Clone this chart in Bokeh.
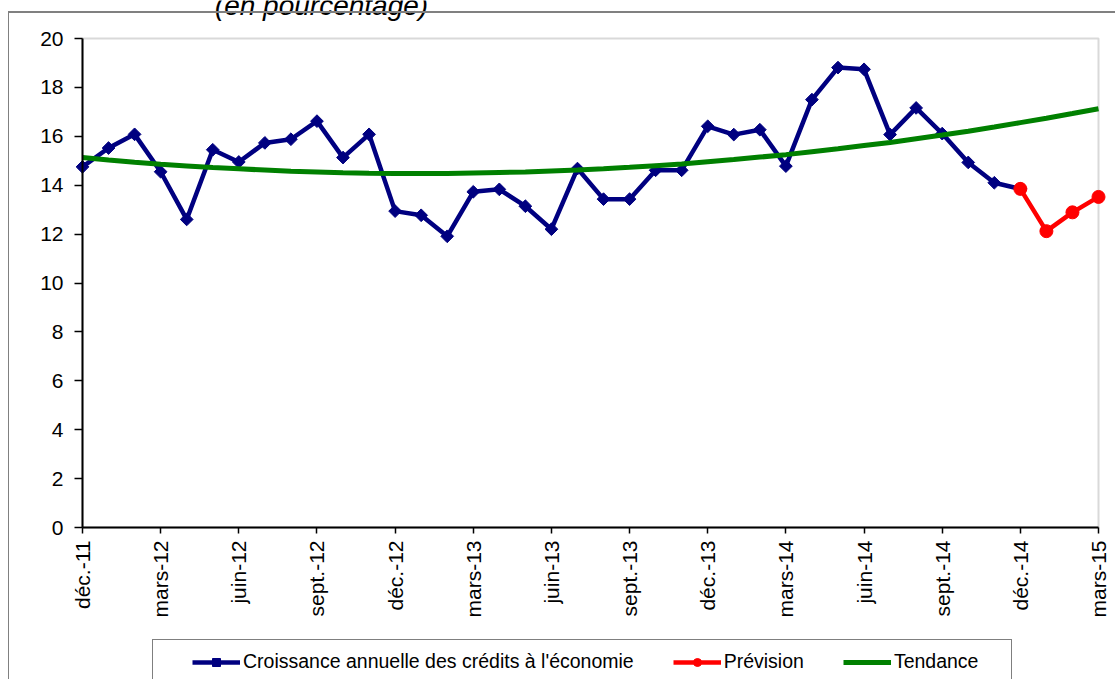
import math
from bokeh.plotting import figure
from bokeh.models import (Range1d, FixedTicker, Legend, LegendItem, Label, BoxAnnotation,
                          InlineStyleSheet, ColumnDataSource)
from bokeh.embed import file_html
from bokeh.resources import INLINE

# ---------------- data ----------------
tick_months = [0, 3, 6, 9, 12, 15, 18, 21, 24, 27, 30, 33, 36, 39]
tick_labels = ["déc.-11", "mars-12", "juin-12", "sept.-12", "déc.-12", "mars-13",
               "juin-13", "sept.-13", "déc.-13", "mars-14", "juin-14", "sept.-14",
               "déc.-14", "mars-15"]

credit_months = list(range(37))
credit_values = [14.75, 15.52, 16.08, 14.55, 12.60, 15.45, 14.95, 15.73, 15.88, 16.62,
                 15.13, 16.08, 12.94, 12.77, 11.91, 13.73, 13.83, 13.14, 12.20, 14.68,
                 13.43, 13.43, 14.61, 14.61, 16.41, 16.07, 16.27, 14.78, 17.50, 18.81,
                 18.74, 16.07, 17.16, 16.11, 14.93, 14.10, 13.85]

forecast_months = [36, 37, 38, 39]
forecast_values = [13.85, 12.12, 12.89, 13.52]

trend_months = list(range(40))
trend_values = [15.13, 15.03, 14.94, 14.86, 14.79, 14.72, 14.67, 14.62, 14.57, 14.54,
                14.51, 14.49, 14.48, 14.48, 14.48, 14.50, 14.52, 14.54, 14.58, 14.62,
                14.67, 14.73, 14.80, 14.87, 14.96, 15.05, 15.15, 15.25, 15.37, 15.49,
                15.62, 15.75, 15.90, 16.05, 16.21, 16.38, 16.56, 16.74, 16.93, 17.13]

y_ticks = [0, 2, 4, 6, 8, 10, 12, 14, 16, 18, 20]

series_names = ["Croissance annuelle des crédits à l'économie", "Prévision", "Tendance"]
subtitle = "(en pourcentage)"

FONT = "Liberation Sans"
NAVY = "#000080"
RED = "#FF0000"
GREEN = "#008000"

# ---------------- layout (pixels) ----------------
W, H = 1115, 679
PL, PR, PT, PB = 82, 1098, 38, 527          # plot-area edges in the picture
X0, X1, Y0, Y1 = 0, 39, 0, 20                # data extent of the plot area
sx = (PR - PL) / (X1 - X0)
sy = (PB - PT) / (Y1 - Y0)
x_range = Range1d(X0 - PL / sx, X1 + (W - PR) / sx)
y_range = Range1d(Y0 - (H - PB) / sy, Y1 + PT / sy)

p = figure(width=W, height=H, x_range=x_range, y_range=y_range,
           output_backend="svg", toolbar_location=None,
           min_border_left=0, min_border_right=0, min_border_top=0, min_border_bottom=0)
p.background_fill_color = "white"
p.border_fill_color = "white"
p.outline_line_color = None
p.xgrid.visible = False
p.ygrid.visible = False

# plot-area frame (grey top/right edges)
p.add_layout(BoxAnnotation(left=X0, right=X1, bottom=Y0, top=Y1, fill_alpha=0,
                           line_color="#808080", line_width=2, level="underlay"))

# axes, fixed on the plot-area edges
p.yaxis.fixed_location = X0
p.xaxis.fixed_location = Y0
p.yaxis.bounds = (Y0, Y1)
p.xaxis.bounds = (X0, X1)
p.yaxis.ticker = FixedTicker(ticks=y_ticks)
p.xaxis.ticker = FixedTicker(ticks=tick_months)
p.xaxis.major_label_overrides = {m: lab for m, lab in zip(tick_months, tick_labels)}
p.xaxis.major_label_orientation = math.pi / 2
for ax in (p.xaxis[0], p.yaxis[0]):
    ax.axis_line_color = "black"
    ax.axis_line_width = 2
    ax.major_tick_line_color = "black"
    ax.major_tick_line_width = 1.5
    ax.major_tick_in = 0
    ax.minor_tick_line_color = None
    ax.major_label_text_font = FONT
    ax.major_label_text_font_size = "21px"
    ax.major_label_text_color = "black"
p.yaxis.major_tick_out = 8
p.yaxis.major_label_standoff = 11
p.xaxis.major_tick_out = 6
p.xaxis.major_label_standoff = 7

# series
src_credit = ColumnDataSource(dict(x=credit_months, y=credit_values))
src_fc = ColumnDataSource(dict(x=forecast_months, y=forecast_values))
src_tr = ColumnDataSource(dict(x=trend_months, y=trend_values))

l1 = p.line("x", "y", source=src_credit, line_color=NAVY, line_width=4.5, line_join="round")
m1 = p.scatter("x", "y", source=src_credit, marker="square", size=9, angle=math.pi / 4,
               fill_color=NAVY, line_color=NAVY)
l2 = p.line("x", "y", source=src_fc, line_color=RED, line_width=4.5, line_join="round")
m2 = p.scatter("x", "y", source=src_fc, marker="circle", size=13,
               fill_color=RED, line_color=RED)
l3 = p.line("x", "y", source=src_tr, line_color=GREEN, line_width=5)

# legend (box top at y=641 px, left at x=152 px)
LEG_H = 43
legend = Legend(items=[LegendItem(label=series_names[0], renderers=[l1, m1]),
                       LegendItem(label=series_names[1], renderers=[l2, m2]),
                       LegendItem(label=series_names[2], renderers=[l3])],
                orientation="horizontal", location=(152, H - 641 - LEG_H))
legend.label_text_font = FONT
legend.label_text_font_size = "19.5px"
legend.label_text_color = "black"
legend.glyph_width = 48
legend.glyph_height = 20
legend.label_standoff = 3
legend.spacing = 39
legend.border_line_color = "black"
legend.border_line_width = 1
legend.background_fill_color = "white"
legend.background_fill_alpha = 1
try:
    legend.padding = dict(left=39, right=33, top=10, bottom=10)
except Exception:
    try:
        legend.padding = (10, 33, 10, 39)
    except Exception:
        legend.padding = 10
p.add_layout(legend)

# subtitle (mostly cut off at the top, as in the source)
p.add_layout(Label(x=X0 + (321 - PL) / sx, y=Y1 + (PT - 5) / sy, text=subtitle,
                   text_align="center", text_baseline="alphabetic", text_font=FONT,
                   text_font_size="28px", text_font_style="italic", text_color="black"))

# outer chart-area border
p.stylesheets = [InlineStyleSheet(css="""
:host { position: relative; }
:host::after { content: ""; position: absolute; left: 8px; top: 11px; right: 0; bottom: 0;
  border-left: 1px solid #808080; border-top: 2px solid #808080; pointer-events: none; }
""")]

open("out.html", "w").write(file_html(p, INLINE))
